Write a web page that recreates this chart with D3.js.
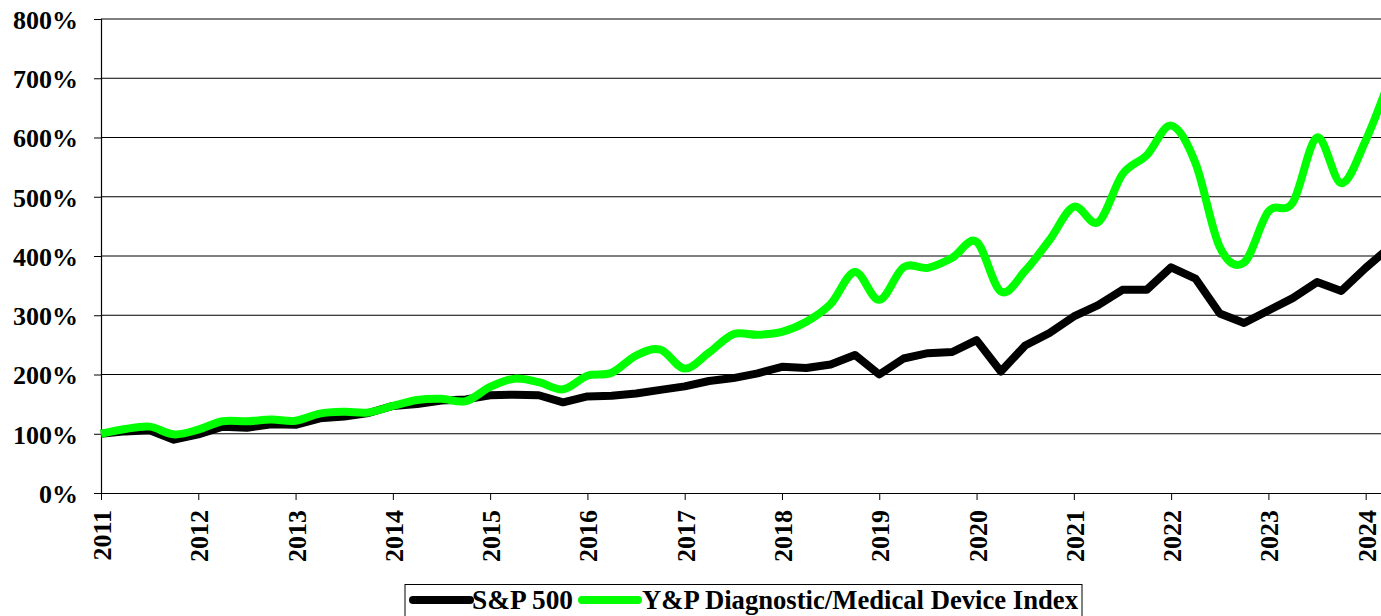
<!DOCTYPE html>
<html>
<head>
<meta charset="utf-8">
<script src="https://cdn.jsdelivr.net/npm/d3@7"></script>
<style>
  html, body { margin: 0; padding: 0; background: #fff; overflow: hidden; }
  svg { display: block; }
  text { font-family: "Liberation Serif", "Times New Roman", serif; font-weight: bold; fill: #000; }
</style>
</head>
<body>
<svg id="chart" width="1381" height="616"></svg>
<script>
// ---- data (quarterly, cumulative % of 2011 value) ----
const quarters = [
  2011.00, 2011.25, 2011.50, 2011.75, 2012.00, 2012.25, 2012.50, 2012.75,
  2013.00, 2013.25, 2013.50, 2013.75, 2014.00, 2014.25, 2014.50, 2014.75,
  2015.00, 2015.25, 2015.50, 2015.75, 2016.00, 2016.25, 2016.50, 2016.75,
  2017.00, 2017.25, 2017.50, 2017.75, 2018.00, 2018.25, 2018.50, 2018.75,
  2019.00, 2019.25, 2019.50, 2019.75, 2020.00, 2020.25, 2020.50, 2020.75,
  2021.00, 2021.25, 2021.50, 2021.75, 2022.00, 2022.25, 2022.50, 2022.75,
  2023.00, 2023.25, 2023.50, 2023.75, 2024.00, 2024.25
];
const sp500 = [
  100, 104, 106, 90, 99, 112, 110, 116,
  115, 126, 129, 135, 147, 150, 156, 158,
  165, 166, 165, 153, 163, 164, 168, 174,
  180, 189, 194, 202, 213, 211, 217, 233,
  200, 227, 236, 238, 258, 205, 249, 270,
  298, 317, 343, 343, 381, 362, 303, 287,
  308, 329, 356, 341, 380, 415
];
const ypIndex = [
  100, 108, 112, 99, 107, 121, 121, 124,
  122, 134, 137, 136, 147, 157, 159, 155,
  179, 193, 187, 175, 198, 203, 232, 242,
  210, 237, 268, 267, 272, 289, 319, 373,
  326, 381, 380, 397, 424, 340, 375, 427,
  483, 457, 538, 570, 620, 557, 415, 389,
  475, 490, 600, 523, 595, 700
];
const seriesNames = ["S&P 500", "Y&P Diagnostic/Medical Device Index"];
const seriesColors = ["#000000", "#00ff00"];
const yearTicks = [2011, 2012, 2013, 2014, 2015, 2016, 2017, 2018, 2019, 2020, 2021, 2022, 2023, 2024];
const percentTicks = [0, 100, 200, 300, 400, 500, 600, 700, 800];

// ---- layout ----
const svg = d3.select("#chart");
const plotLeft = 101, plotTop = 19, plotBottom = 493;
const x = d3.scaleLinear().domain([2011, 2024.25]).range([plotLeft, 1390]);
const y = d3.scaleLinear().domain([0, 800]).range([plotBottom, plotTop]);

// gridlines
svg.append("g")
  .selectAll("line")
  .data(percentTicks.filter(d => d > 0))
  .join("line")
  .attr("x1", plotLeft).attr("x2", 1381)
  .attr("y1", d => y(d)).attr("y2", d => y(d))
  .attr("stroke", "#000").attr("stroke-width", 1);

// y axis
const yAxis = svg.append("g")
  .attr("transform", `translate(${plotLeft},0)`)
  .call(d3.axisLeft(y).tickValues(percentTicks).tickFormat(d => d + "%").tickSize(7).tickPadding(16));
yAxis.select(".domain").attr("stroke", "#000").attr("stroke-width", 1.2);
yAxis.selectAll(".tick line").attr("stroke", "#000");
yAxis.selectAll(".tick text")
  .attr("font-family", "Liberation Serif, serif")
  .attr("font-weight", "bold")
  .attr("font-size", 26)
  .attr("dy", "0.36em")
  .attr("fill", "#000");

// x axis
const xAxis = svg.append("g")
  .attr("transform", `translate(0,${plotBottom})`)
  .call(d3.axisBottom(x).tickValues(yearTicks).tickFormat(d3.format("d")).tickSize(7).tickSizeOuter(0));
xAxis.select(".domain").attr("stroke", "#000").attr("stroke-width", 1.2);
xAxis.selectAll(".tick line").attr("stroke", "#000");
xAxis.selectAll(".tick text")
  .attr("font-family", "Liberation Serif, serif")
  .attr("font-weight", "bold")
  .attr("font-size", 26)
  .attr("fill", "#000")
  .attr("text-anchor", "end")
  .attr("dy", null)
  .attr("y", 0)
  .attr("transform", "translate(9.5,17) rotate(-90)");

// lines
const pts = (vals) => quarters.map((q, i) => [q, vals[i]]);
const straight = d3.line().x(d => x(d[0])).y(d => y(d[1]));
const smooth = d3.line().x(d => x(d[0])).y(d => y(d[1])).curve(d3.curveCatmullRom.alpha(0));

svg.append("path")
  .datum(pts(sp500))
  .attr("d", straight)
  .attr("fill", "none")
  .attr("stroke", seriesColors[0])
  .attr("stroke-width", 8)
  .attr("stroke-linejoin", "round");

svg.append("path")
  .datum(pts(ypIndex))
  .attr("d", smooth)
  .attr("fill", "none")
  .attr("stroke", seriesColors[1])
  .attr("stroke-width", 8)
  .attr("stroke-linejoin", "round");

// legend
const lg = svg.append("g");
lg.append("rect")
  .attr("x", 405).attr("y", 584.5).attr("width", 677).attr("height", 50)
  .attr("fill", "#fff").attr("stroke", "#000").attr("stroke-width", 1);
const items = [
  { name: seriesNames[0], color: seriesColors[0], x0: 413, x1: 470, tx: 472, w: 101 },
  { name: seriesNames[1], color: seriesColors[1], x0: 582, x1: 638, tx: 642, w: 436 }
];
items.forEach(it => {
  lg.append("line")
    .attr("x1", it.x0).attr("x2", it.x1).attr("y1", 600).attr("y2", 600)
    .attr("stroke", it.color).attr("stroke-width", 8).attr("stroke-linecap", "round");
  lg.append("text")
    .attr("x", it.tx).attr("y", 609)
    .attr("font-size", 28)
    .attr("textLength", it.w)
    .attr("lengthAdjust", "spacingAndGlyphs")
    .text(it.name);
});
</script>
</body>
</html>
